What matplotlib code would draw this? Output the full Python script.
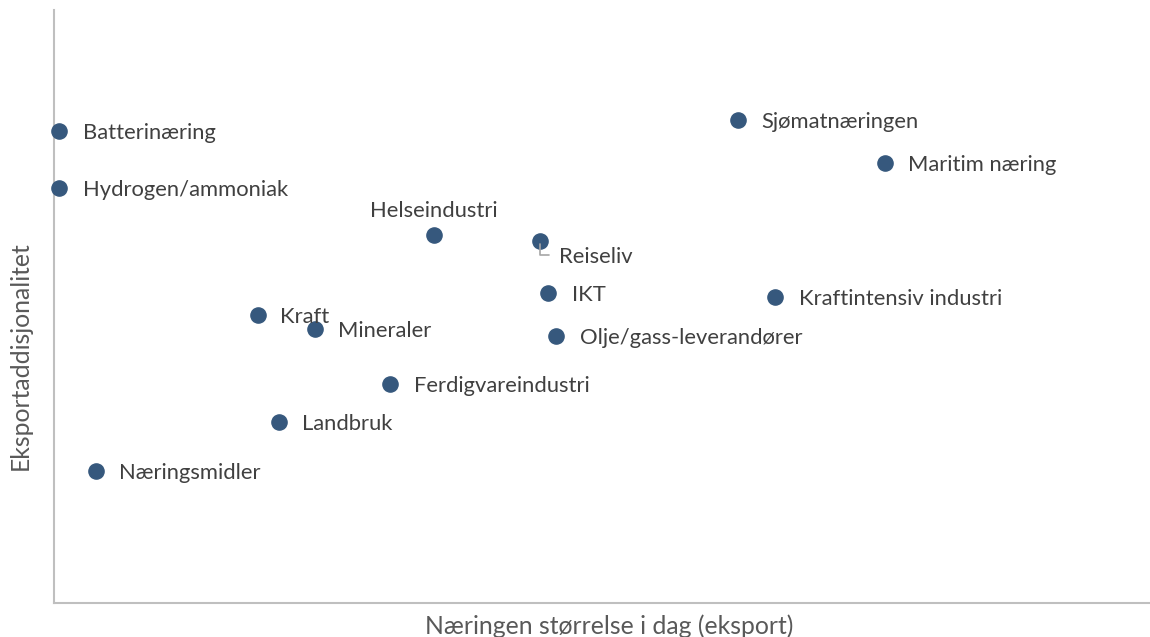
import matplotlib.pyplot as plt

# Næringer med plassering (størrelse i dag, eksportaddisjonalitet), relativ skala 0-100
naeringer = ["Batterinæring", "Hydrogen/ammoniak", "Helseindustri", "Reiseliv",
             "Sjømatnæringen", "Maritim næring", "IKT", "Kraftintensiv industri",
             "Kraft", "Mineraler", "Olje/gass-leverandører", "Ferdigvareindustri",
             "Landbruk", "Næringsmidler"]
storrelse = [0.5, 0.5, 34.7, 44.3, 62.4, 75.8, 45.1, 65.8, 18.6, 23.8, 45.8, 30.7, 20.5, 3.8]
addisjonalitet = [79.6, 70.0, 62.1, 61.0, 81.5, 74.2, 52.3, 51.6, 48.6, 46.2, 45.0, 36.9, 30.5, 22.3]

plt.rcParams['font.family'] = ['Lato', 'DejaVu Sans']

fig = plt.figure(figsize=(11.5, 6.37), dpi=100)
ax = fig.add_axes([54 / 1150, 34 / 637, 1096 / 1150, 593 / 637])
ax.set_xlim(0, 100)
ax.set_ylim(0, 100)

ax.scatter(storrelse, addisjonalitet, s=120, color="#36587D", zorder=3, clip_on=False)

tekstfarge = "#404040"
fs = 15.8
for navn, x, y in zip(naeringer, storrelse, addisjonalitet):
    if navn == "Helseindustri":
        ax.annotate(navn, (x, y), xytext=(0, 10), textcoords="offset points",
                    ha="center", va="bottom", fontsize=fs, color=tekstfarge)
    elif navn == "Reiseliv":
        ax.annotate(navn, (x, y), xytext=(14, -11), textcoords="offset points",
                    ha="left", va="center", fontsize=fs, color=tekstfarge)
        # ledelinje fra punkt til etikett
        ax.annotate("", (x, y), xytext=(9, -10), textcoords="offset points",
                    arrowprops=dict(arrowstyle="-", color="#A6A6A6", lw=1.2,
                                    connectionstyle="angle,angleA=0,angleB=90,rad=0"))
    elif navn == "Kraft":
        ax.annotate(navn, (x, y), xytext=(16, -1.5), textcoords="offset points",
                    ha="left", va="center", fontsize=fs, color=tekstfarge)
    else:
        ax.annotate(navn, (x, y), xytext=(17, -1.5), textcoords="offset points",
                    ha="left", va="center", fontsize=fs, color=tekstfarge)

for side in ["top", "right"]:
    ax.spines[side].set_visible(False)
for side in ["left", "bottom"]:
    ax.spines[side].set_color("#BFBFBF")
    ax.spines[side].set_linewidth(1.5)
ax.set_xticks([])
ax.set_yticks([])

ax.set_xlabel("Næringen størrelse i dag (eksport)", fontsize=17.8, color="#595959")
ax.set_ylabel("Eksportaddisjonalitet", fontsize=17.8, color="#595959")
ax.xaxis.set_label_coords(0.507, -0.039)
ax.yaxis.set_label_coords(-0.031, 0.418)
ax.xaxis.label.set_va("center")
ax.yaxis.label.set_va("center")

fig.savefig("out.png", dpi=100)
